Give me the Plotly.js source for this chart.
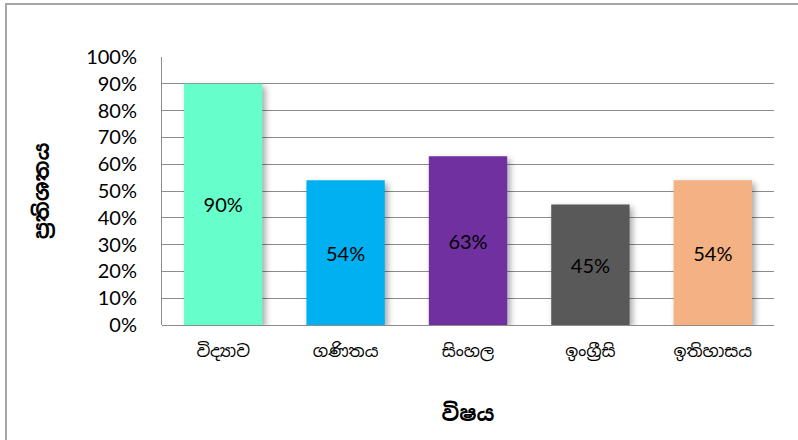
<!DOCTYPE html>
<html>
<head>
<meta charset="utf-8">
<script src="https://cdn.plot.ly/plotly-3.0.1.min.js"></script>
<style>
  html, body { margin: 0; padding: 0; background: #fff; }
  #wrap { position: relative; width: 798px; height: 440px; }
  #frame { position: absolute; left: 5px; top: 3px; width: 800px; height: 450px;
           border-left: 2px solid #a6a6a6; border-top: 2px solid #a6a6a6; pointer-events: none; }
  #chart { position: absolute; left: 0; top: 0; width: 798px; height: 440px; }
  #chart .bars .point path { filter: drop-shadow(3px 3px 3px rgba(0,0,0,0.35)); }
</style>
</head>
<body>
<div id="wrap">
  <div id="chart"></div>
  <div id="frame"></div>
</div>
<script>
const categories = ["විද්‍යාව", "ගණිතය", "සිංහල", "ඉංග්‍රීසි", "ඉතිහාසය"];
const values = [0.90, 0.54, 0.63, 0.45, 0.54];
const labels = ["90%", "54%", "63%", "45%", "54%"];
const colors = ["#66FFCC", "#00B0F0", "#7030A0", "#595959", "#F4B183"];
const xTitle = "විෂය";
const yTitle = "ප්‍රතිශතය";

const sinhala = "'Noto Sans Sinhala', 'Noto Serif Sinhala', 'Iskoola Pota', 'Lohit Sinhala', 'LKLUG', sans-serif";
const latin = "Lato, 'Open Sans', 'Noto Sans', sans-serif";

const trace = {
  type: "bar",
  x: categories,
  y: values,
  text: labels,
  textposition: "inside",
  insidetextanchor: "middle",
  textangle: 0,
  textfont: { family: latin, size: 20, color: "#000" },
  marker: { color: colors, line: { width: 0 } },
  width: 0.64,
  hoverinfo: "none",
  cliponaxis: false
};

const layout = {
  width: 798,
  height: 440,
  margin: { l: 162, r: 24, t: 57, b: 115 },
  paper_bgcolor: "rgba(0,0,0,0)",
  plot_bgcolor: "#fff",
  showlegend: false,
  bargap: 0.36,
  xaxis: {
    type: "category",
    showgrid: false,
    zeroline: false,
    showline: false,
    ticks: "",
    ticklabelstandoff: 14,
    tickfont: { family: sinhala, size: 17, color: "#000" },
    title: { text: xTitle, font: { family: sinhala, size: 21, color: "#000", weight: "bold" }, standoff: 45 },
    automargin: false
  },
  yaxis: {
    range: [0, 1],
    tickvals: [0, 0.1, 0.2, 0.3, 0.4, 0.5, 0.6, 0.7, 0.8, 0.9, 1.0],
    ticktext: ["0%", "10%", "20%", "30%", "40%", "50%", "60%", "70%", "80%", "90%", "100%"],
    tickfont: { family: latin, size: 20, color: "#000" },
    ticklabelstandoff: 20,
    showgrid: true,
    gridcolor: "#8c8c8c",
    gridwidth: 1,
    zeroline: true,
    zerolinecolor: "#8c8c8c",
    zerolinewidth: 1,
    showline: true,
    linecolor: "#8c8c8c",
    linewidth: 1,
    ticks: "",
    ticklen: 0,
    title: { text: yTitle, font: { family: sinhala, size: 21, color: "#000", weight: "bold" }, standoff: 30 },
    automargin: false
  }
};

Plotly.newPlot("chart", [trace], layout, { staticPlot: true, displayModeBar: false });
</script>
</body>
</html>
